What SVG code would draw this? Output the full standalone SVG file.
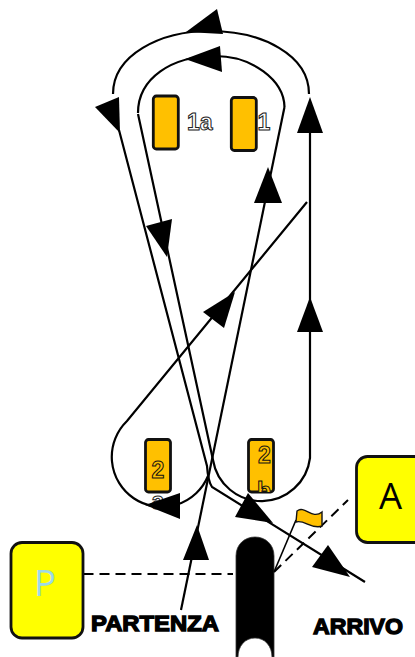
<svg xmlns="http://www.w3.org/2000/svg" width="415" height="657" viewBox="0 0 415 657">
<style>
.ln{fill:none;stroke:#000;stroke-width:2.2}
.ah{fill:#000;stroke:none}
.post{fill:#FFC000;stroke:#111;stroke-width:2.8}
.out{font-family:"Liberation Sans",Arial,sans-serif;font-weight:700;font-size:23px;fill:#fff;stroke:#222;stroke-width:1}
.num{font-family:"Liberation Sans",Arial,sans-serif;font-weight:700;font-size:23px;fill:#FFC000;stroke:#111;stroke-width:1;text-anchor:middle}
.box{fill:#FF0;stroke:#111;stroke-width:2.8}
.lab{font-family:"Liberation Sans",Arial,sans-serif;font-weight:700;font-size:22px;fill:#000;stroke:#000;stroke-width:1.300}
.big{font-family:"Open Sans","Noto Sans",sans-serif;font-size:36.500px;text-anchor:middle}
</style>
<defs><clipPath id="cb"><rect x="240" y="475" width="40" height="17"/></clipPath></defs>
<g id="post-1a"><rect class="post" x="153.300" y="96" width="25" height="53" rx="3"/><text class="out" x="187" y="130">1a</text></g>
<g id="post-1"><rect class="post" x="231.300" y="97.500" width="25" height="53" rx="3"/><text class="out" x="257.500" y="130">1</text></g>
<g id="post-2a"><rect class="post" x="145.500" y="439.500" width="25" height="52.500" rx="3"/><text class="num" x="158" y="478">2</text><text class="out" x="158" y="509" text-anchor="middle">a</text></g>
<g id="post-2b"><rect class="post" x="248.500" y="439.500" width="25" height="52.500" rx="3"/><text class="num" x="264.500" y="463">2</text><text class="num" x="264" y="499" clip-path="url(#cb)">b</text></g>
<g id="connectors">
<path class="ln" d="M113 94C113 55 160 31 210 31C262 31 309 55 309 94"/>
<path class="ln" d="M138 113C138 78 172 56 215 56C252 56 284 80 284.500 107"/>
<path class="ln" d="M119 130L207 466Q208 481 212 487L365 582"/>
<path class="ln" d="M138 114L213 460A49 49 0 0 0 310 458L310 133"/>
<path class="ln" d="M284.500 107L181 610"/>
<path class="ln" d="M307 202L127 421A50 50 0 1 0 208 476"/>
<path class="ah" d="M186 32L217 9L223 34Z"/>
<path class="ah" d="M185 59L220 46L222 72Z"/>
<path class="ah" d="M95 107L119 97L120 133Z"/>
<path class="ah" d="M310 97L297 133L323 133Z"/>
<path class="ah" d="M310 297L297 332L323 332Z"/>
<path class="ah" d="M268 167L254 203L282 203Z"/>
<path class="ah" d="M146 226L172 219L167 257Z"/>
<path class="ah" d="M235 292L203 312L224 328Z"/>
<path class="ah" d="M145 505L180 493L180 519Z"/>
<path class="ah" d="M248 493L235 517L273 523Z"/>
<path class="ah" d="M197 525L183 560L209 560Z"/>
<path class="ah" d="M328 545L312 567L350 577Z"/>
<path d="M83.500 574H233M274 572L348 500" fill="none" stroke="#000" stroke-width="2" stroke-dasharray="10 6"/>
</g>
<g id="start-gate"><path d="M236 657V556C236 544 245 537 255 537C265 537 274 544 274 556V657H272C272 646 265 638 255 638C245 638 238 646 238 657Z" fill="#000" stroke="#333" stroke-width=".8"/></g>
<g id="flag"><path d="M274 572L296 520" class="ln" style="stroke-width:1.6"/><path d="M297 511C305 505 312 520 322 512V526C312 530 304 519 296 522Z" fill="#FFC000" stroke="#111" stroke-width="1.400"/></g>
<g id="box-a"><rect class="box" x="356.500" y="456.500" width="70" height="86" rx="11"/><text class="big" x="390.500" y="509" fill="#000">A</text></g>
<g id="box-p"><rect class="box" x="11" y="542.500" width="72" height="95.500" rx="11"/><text class="big" x="45" y="596" fill="#9DD9E8">P</text></g>
<text class="lab" x="91" y="631" textLength="128" lengthAdjust="spacingAndGlyphs">PARTENZA</text>
<text class="lab" x="313" y="634" textLength="90" lengthAdjust="spacingAndGlyphs">ARRIVO</text>
</svg>
